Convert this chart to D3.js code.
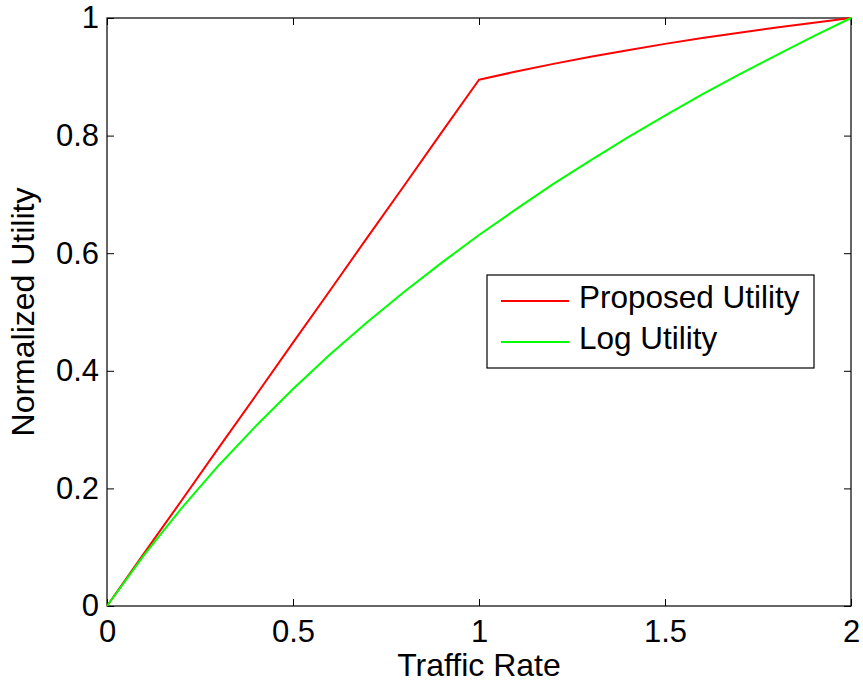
<!DOCTYPE html>
<html lang="en">
<head>
  <meta charset="UTF-8">
  <title>Normalized Utility vs Traffic Rate</title>
  <script src="https://d3js.org/d3.v7.min.js"></script>
  <style>
    body {
      margin: 0;
      background: #fff;
    }
    svg text {
      font-family: "Liberation Sans", Arial, sans-serif;
      fill: #000;
    }
  </style>
</head>
<body>
  <div id="chart"></div>

  <script type="text/javascript">
    // traffic rate samples (x)
    var rates = [0, 0.1, 0.2, 0.3, 0.4, 0.5, 0.6, 0.7, 0.8, 0.9, 1.0,
                 1.1, 1.2, 1.3, 1.4, 1.5, 1.6, 1.7, 1.8, 1.9, 2.0];

    // values
    var proposedUtility = [0, 0.090, 0.179, 0.269, 0.358, 0.448, 0.537, 0.627, 0.716, 0.806, 0.895,
                           0.909, 0.922, 0.934, 0.945, 0.956, 0.966, 0.975, 0.984, 0.992, 1.0];
    var logUtility = [0, 0.087, 0.166, 0.239, 0.306, 0.369, 0.428, 0.483, 0.535, 0.584, 0.631,
                      0.675, 0.718, 0.758, 0.797, 0.834, 0.870, 0.904, 0.937, 0.969, 1.0];

    var seriesNames = ['Proposed Utility', 'Log Utility'];
    var seriesColors = ['#ff0000', '#00ff00'];

    var xTicks = [0, 0.5, 1, 1.5, 2];
    var xTickLabels = ['0', '0.5', '1', '1.5', '2'];
    var yTicks = [0, 0.2, 0.4, 0.6, 0.8, 1];
    var yTickLabels = ['0', '0.2', '0.4', '0.6', '0.8', '1'];

    var width = 863, height = 684;
    var margin = {top: 18, right: 12, bottom: 78, left: 107};
    var plotW = width - margin.left - margin.right,
        plotH = height - margin.top - margin.bottom;

    var svg = d3.select("#chart")
      .append("svg")
      .attr("width", width)
      .attr("height", height);

    var chart = svg.append("g")
      .attr("transform", "translate(" + margin.left + "," + margin.top + ")");

    var x = d3.scaleLinear().domain([0, 2]).range([0, plotW]);
    var y = d3.scaleLinear().domain([0, 1]).range([plotH, 0]);

    var tickFont = 31, labelFont = 32, legendFont = 31.5;

    // axes, ticks pointing inward on all four sides
    var bottomAxis = chart.append("g")
      .attr("transform", "translate(0," + plotH + ")")
      .call(d3.axisBottom(x).tickValues(xTicks)
        .tickFormat(function(d, i) { return xTickLabels[i]; })
        .tickSizeInner(-7).tickSizeOuter(0).tickPadding(14));

    var leftAxis = chart.append("g")
      .call(d3.axisLeft(y).tickValues(yTicks)
        .tickFormat(function(d, i) { return yTickLabels[i]; })
        .tickSizeInner(-7).tickSizeOuter(0).tickPadding(8));

    var topAxis = chart.append("g")
      .call(d3.axisTop(x).tickValues(xTicks).tickFormat("")
        .tickSizeInner(-7).tickSizeOuter(0));

    var rightAxis = chart.append("g")
      .attr("transform", "translate(" + plotW + ",0)")
      .call(d3.axisRight(y).tickValues(yTicks).tickFormat("")
        .tickSizeInner(-7).tickSizeOuter(0));

    [bottomAxis, leftAxis, topAxis, rightAxis].forEach(function(ax) {
      ax.select(".domain").remove();
      ax.selectAll(".tick line").attr("stroke", "#000").attr("stroke-width", 1);
      ax.selectAll("text")
        .style("font-size", tickFont + "px")
        .style("font-family", '"Liberation Sans", Arial, sans-serif');
    });

    // plot box
    chart.append("rect")
      .attr("x", 0).attr("y", 0)
      .attr("width", plotW).attr("height", plotH)
      .attr("fill", "none")
      .attr("stroke", "#000")
      .attr("stroke-width", 1.2);

    // lines
    var line = d3.line()
      .x(function(d) { return x(d[0]); })
      .y(function(d) { return y(d[1]); });

    var seriesData = [proposedUtility, logUtility];
    seriesData.forEach(function(vals, k) {
      chart.append("path")
        .datum(rates.map(function(r, i) { return [r, vals[i]]; }))
        .attr("fill", "none")
        .attr("stroke", seriesColors[k])
        .attr("stroke-width", 2)
        .attr("stroke-linejoin", "round")
        .attr("d", line);
    });

    // axis labels
    chart.append("text")
      .attr("x", plotW / 2)
      .attr("y", plotH + 70)
      .attr("text-anchor", "middle")
      .style("font-size", labelFont + "px")
      .text("Traffic Rate");

    chart.append("text")
      .attr("transform", "translate(" + (34 - margin.left) + "," + (plotH / 2) + ") rotate(-90)")
      .attr("text-anchor", "middle")
      .style("font-size", labelFont + "px")
      .text("Normalized Utility");

    // legend
    var legend = svg.append("g").attr("transform", "translate(487,275)");
    legend.append("rect")
      .attr("width", 327).attr("height", 93)
      .attr("fill", "#fff")
      .attr("stroke", "#000")
      .attr("stroke-width", 1.2);

    seriesNames.forEach(function(name, i) {
      var ly = 26 + i * 41;
      legend.append("line")
        .attr("x1", 14).attr("x2", 82)
        .attr("y1", ly).attr("y2", ly)
        .attr("stroke", seriesColors[i])
        .attr("stroke-width", 2);
      legend.append("text")
        .attr("x", 92)
        .attr("y", ly + 7)
        .style("font-size", legendFont + "px")
        .text(name);
    });
  </script>
</body>
</html>
